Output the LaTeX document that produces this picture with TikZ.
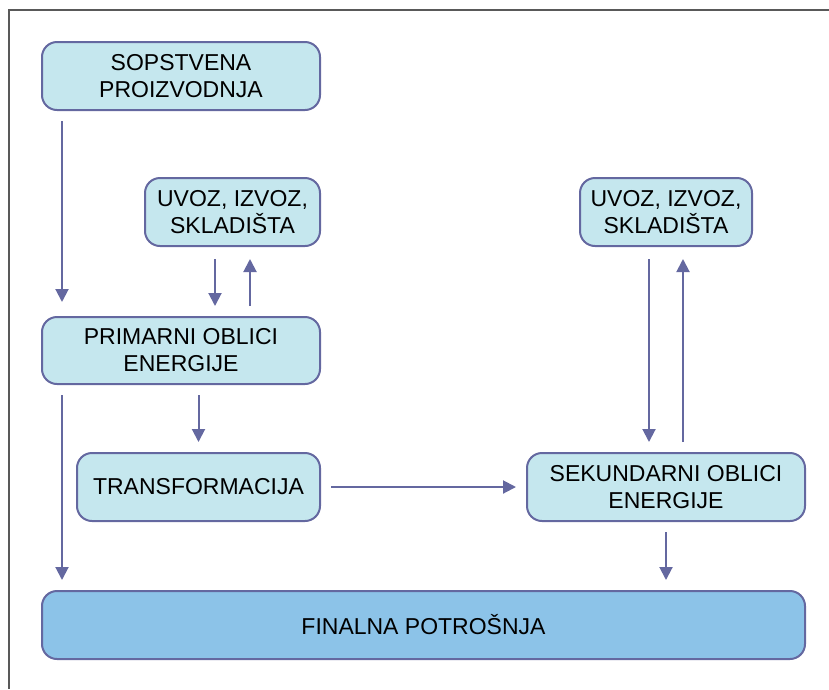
\documentclass[tikz,border=0pt]{standalone}
\usepackage{fontspec}
\setmainfont{Liberation Sans}
\usetikzlibrary{arrows.meta}
\definecolor{boxline}{RGB}{100,104,160}
\definecolor{boxfill}{RGB}{197,231,238}
\definecolor{finfill}{RGB}{140,195,232}

\begin{document}
\begin{tikzpicture}[x=1pt,y=-1pt,
    box/.style={draw=boxline, line width=2pt, fill=boxfill, rounded corners=15pt,
      align=center, minimum height=68pt, inner sep=0pt,
      font=\fontsize{23}{27}\selectfont},
    flow/.style={draw=boxline, line width=2pt, -{Triangle[length=13pt,width=13pt]},
      shorten <=10pt, shorten >=10pt}]
      \useasboundingbox (0,0) rectangle (829,689);
      \draw[gray!70!black, line width=1.5pt] (829,10) -- (9,10) -- (9,689);
      % Define nodes
      \node[box, minimum width=278pt] (sop)   at (181,76)    {SOPSTVENA\\PROIZVODNJA};
      \node[box, minimum width=175pt] (uvozl) at (232.5,212) {UVOZ, IZVOZ,\\SKLADIŠTA};
      \node[box, minimum width=278pt, minimum height=67pt] (prim) at (181,350.5) {PRIMARNI OBLICI\\ENERGIJE};
      \node[box, minimum width=243pt] (trans) at (198.5,487) {TRANSFORMACIJA};
      \node[box, minimum width=172pt] (uvozr) at (666,212)   {UVOZ, IZVOZ,\\SKLADIŠTA};
      \node[box, minimum width=278pt] (sek)   at (666,487)   {SEKUNDARNI OBLICI\\ENERGIJE};
      \node[box, minimum width=763pt, fill=finfill] (fin) at (423.5,625) {FINALNA POTROŠNJA};
      % Connect nodes
      \draw[flow, shorten >=14pt] ([xshift=-119pt]sop.south) -- ([xshift=-119pt]prim.north);
      \draw[flow, shorten <=12pt] ([xshift=-17.5pt]uvozl.south) -- ([xshift=-17.5pt]uvozl.south |- prim.north);
      \draw[flow, shorten >=12pt] ([xshift=17.5pt]uvozl.south |- prim.north) -- ([xshift=17.5pt]uvozl.south);
      \draw[flow] (prim.south -| trans.north) -- (trans.north);
      \draw[flow] ([xshift=-119pt]prim.south) -- ([xshift=-119pt]prim.south |- fin.north);
      \draw[flow] (trans.east) -- (sek.west);
      \draw[flow, shorten <=12pt] ([xshift=-17pt]uvozr.south) -- ([xshift=-17pt]uvozr.south |- sek.north);
      \draw[flow, shorten >=12pt] ([xshift=17pt]uvozr.south |- sek.north) -- ([xshift=17pt]uvozr.south);
      \draw[flow] (sek.south) -- (sek.south |- fin.north);
\end{tikzpicture}
\end{document}
